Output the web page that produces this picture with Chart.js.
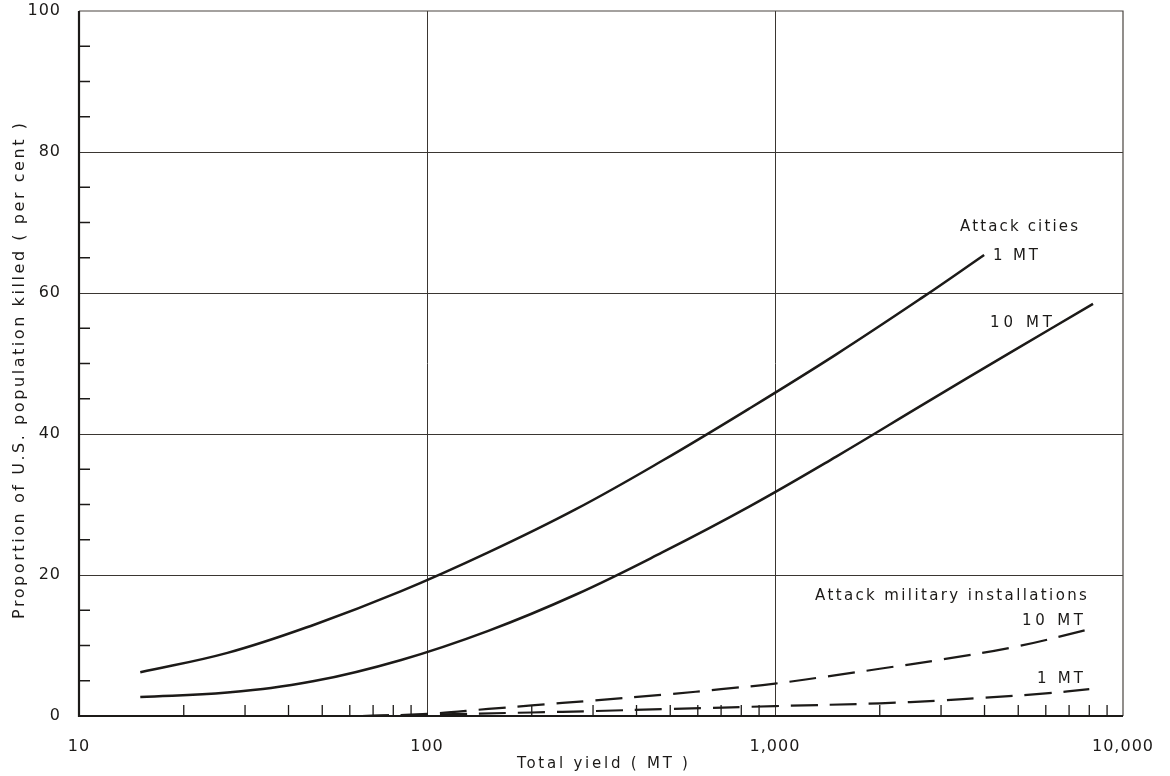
<!DOCTYPE html>
<html><head><meta charset="utf-8">
<script src="https://cdn.jsdelivr.net/npm/chart.js@4.4.0/dist/chart.umd.min.js"></script>
<style>html,body{margin:0;padding:0;background:#fff}#wrap{width:1170px;height:776px}</style>
</head><body><div id="wrap"><canvas id="c" width="1170" height="776"></canvas></div>
<script>
// ---- data ----
const citiesYield1MT   = [15, 26.7, 47.4, 84.3, 150, 267, 474, 843, 1500, 2667, 3990];
const cities1MT        = [6.2, 8.95, 12.95, 17.7, 23.2, 29.3, 36.2, 43.6, 51.3, 59.45, 65.4];
const citiesYield10MT  = [15, 26.7, 47.4, 84.3, 150, 267, 474, 843, 1500, 2667, 4742, 8200];
const cities10MT       = [2.7, 3.33, 4.95, 7.95, 12.08, 17.2, 23.2, 29.7, 36.8, 44.2, 51.55, 58.45];
const milYield10MT     = [65, 100, 150, 200, 300, 500, 700, 1000, 1500, 2000, 3000, 5000, 8000];
const military10MT     = [0.0, 0.3, 1.0, 1.5, 2.2, 3.1, 3.8, 4.6, 5.8, 6.7, 8.0, 9.9, 12.3];
const milYield1MT      = [65, 100, 200, 300, 500, 1000, 2000, 3000, 4000, 6000, 8000];
const military1MT      = [0.0, 0.2, 0.5, 0.7, 1.0, 1.4, 1.8, 2.2, 2.6, 3.2, 3.8];
const yTickLabels      = [0, 20, 40, 60, 80, 100];
const xTickLabels      = {10: '10', 100: '100', 1000: '1,000', 10000: '10,000'};
const xMajor           = [100, 1000];
const yMajor           = [20, 40, 60, 80];
const xTitle           = 'Total yield ( MT )';
const yTitle           = 'Proportion of U.S. population killed ( per cent )';

const FONT = "'DejaVu Sans', 'Open Sans', sans-serif";
const INK = '#1c1a18';

function pts(xs, ys){ return xs.map((x,i)=>({x:x, y:ys[i]})); }

function spaced(ctx, text, left, right, cy){
  ctx.letterSpacing = '0px';
  const w0 = ctx.measureText(text).width;
  const n = Math.max(text.length - 1, 1);
  const ls = Math.max(0, (right - left - w0) / n);
  ctx.letterSpacing = ls.toFixed(2) + 'px';
  ctx.textAlign = 'left'; ctx.textBaseline = 'middle';
  ctx.fillText(text, left, cy);
  ctx.letterSpacing = '0px';
}

const frame = {
  id:'frame',
  beforeDraw(chart){ chart.ctx.letterSpacing = '1px'; },
  beforeDatasetsDraw(chart){
    const {ctx, chartArea:a, scales:{x, y}} = chart;
    ctx.save();
    ctx.strokeStyle = '#3a3632'; ctx.lineWidth = 1;
    ctx.beginPath();
    yMajor.forEach(v=>{ const py=Math.round(y.getPixelForValue(v))+0.5; ctx.moveTo(a.left,py); ctx.lineTo(a.right,py); });
    xMajor.forEach(v=>{ const px=Math.round(x.getPixelForValue(v))+0.5; ctx.moveTo(px,a.top); ctx.lineTo(px,a.bottom); });
    ctx.stroke();
    ctx.lineWidth = 1.3; ctx.strokeStyle = INK;
    ctx.beginPath();
    for (let v=5; v<100; v+=5){ if (v%20===0) continue; const py=y.getPixelForValue(v); ctx.moveTo(a.left,py); ctx.lineTo(a.left+11,py); }
    [10,100,1000].forEach(d=>{ for(let k=2;k<=9;k++){ const px=x.getPixelForValue(d*k); ctx.moveTo(px,a.bottom); ctx.lineTo(px,a.bottom-11);} });
    ctx.stroke();
    ctx.lineWidth = 1.2; ctx.strokeStyle = '#4a4540';
    ctx.beginPath(); ctx.moveTo(a.left,a.top); ctx.lineTo(a.right,a.top); ctx.lineTo(a.right,a.bottom); ctx.stroke();
    ctx.lineWidth = 2.2; ctx.strokeStyle = INK;
    ctx.beginPath(); ctx.moveTo(a.left,a.top); ctx.lineTo(a.left,a.bottom); ctx.lineTo(a.right,a.bottom); ctx.stroke();
    ctx.restore();
  },
  afterDatasetsDraw(chart){
    const {ctx} = chart;
    ctx.save();
    ctx.fillStyle = INK; ctx.font = "15px " + FONT;
    spaced(ctx, 'Attack cities', 960, 1078, 227);
    spaced(ctx, '1 MT', 993, 1038, 256);
    spaced(ctx, '10 MT', 990, 1052, 323);
    spaced(ctx, 'Attack military installations', 815, 1087, 596);
    spaced(ctx, '10 MT', 1022, 1083, 621);
    spaced(ctx, '1 MT', 1037, 1083, 679);
    spaced(ctx, xTitle, 517, 688, 764);
    ctx.translate(20, 371); ctx.rotate(-Math.PI/2);
    ctx.font = "16px " + FONT;
    spaced(ctx, yTitle, -248, 248, 0);
    ctx.restore();
  }
};

const lineStyle = {borderColor: INK, borderWidth: 2.5, pointRadius: 0, fill: false, tension: 0.4};

new Chart(document.getElementById('c'), {
  type: 'line',
  data: { datasets: [
    Object.assign({label:'Attack cities 1 MT', data: pts(citiesYield1MT, cities1MT)}, lineStyle),
    Object.assign({label:'Attack cities 10 MT', data: pts(citiesYield10MT, cities10MT)}, lineStyle),
    Object.assign({label:'Attack military installations 10 MT', data: pts(milYield10MT, military10MT), borderDash:[27,12]}, lineStyle, {borderWidth:2.2}),
    Object.assign({label:'Attack military installations 1 MT', data: pts(milYield1MT, military1MT), borderDash:[27,12]}, lineStyle, {borderWidth:2.2})
  ]},
  options: {
    responsive: false, animation: false, maintainAspectRatio: false,
    layout: { padding: {left: 0, right: 47, top: 11, bottom: 0} },
    plugins: { legend: {display:false}, tooltip: {enabled:false} },
    scales: {
      x: {
        type: 'logarithmic', min: 10, max: 10000,
        border: {display:false},
        grid: {display:false},
        ticks: { autoSkip:false, maxRotation:0, padding: 13, color: INK, font:{family: FONT, size: 16},
          callback: (v) => xTickLabels[v] !== undefined ? xTickLabels[v] : null },
        afterBuildTicks: (s) => { s.ticks = Object.keys(xTickLabels).map(k=>({value:+k})); },
        afterFit: (s) => { s.height = 60; s.paddingLeft = 0; s.paddingRight = 0; }
      },
      y: {
        min: 0, max: 100,
        border: {display:false},
        grid: {display:false},
        ticks: { stepSize: 20, padding: 10, color: INK, font:{family: FONT, size: 16},
          callback: (v) => yTickLabels.includes(v) ? String(v) : null },
        afterFit: (s) => { s.width = 79; s.paddingTop = 0; s.paddingBottom = 0; }
      }
    }
  },
  plugins: [frame]
});
</script>
</body></html>
